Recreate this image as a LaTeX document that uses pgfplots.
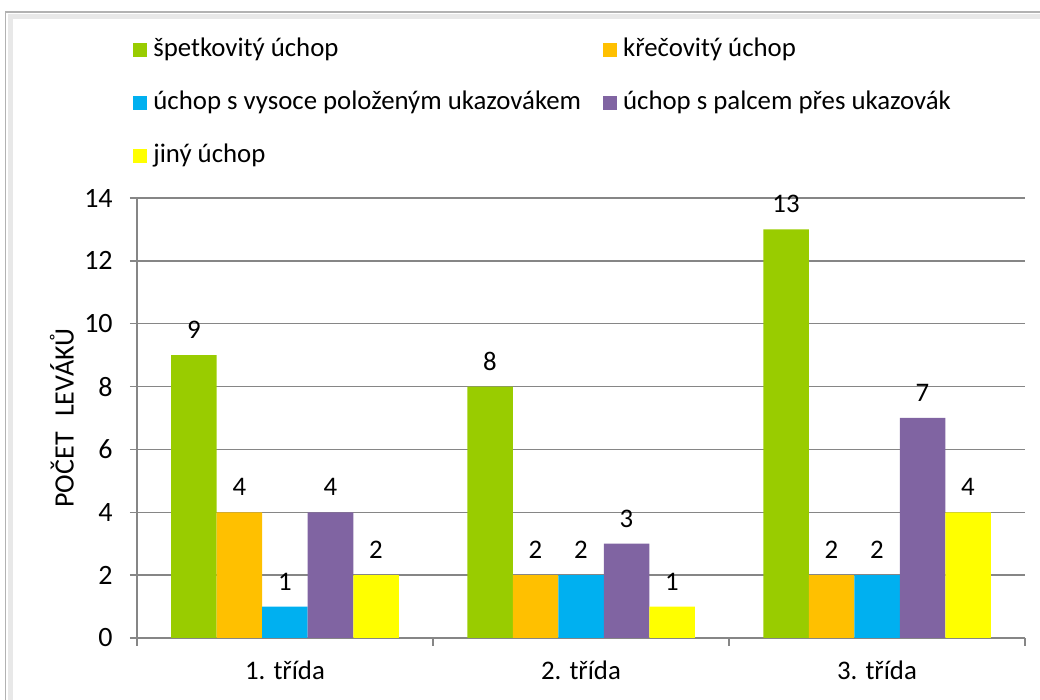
\documentclass[border=0pt]{standalone}
\usepackage{fontspec}
\setmainfont{Carlito}
\usepackage{pgfplots}
\pgfplotsset{compat=1.18}

\definecolor{cGreen}{HTML}{99CC00}
\definecolor{cOrange}{HTML}{FFC000}
\definecolor{cBlue}{HTML}{00B0F0}
\definecolor{cPurple}{HTML}{8064A2}
\definecolor{cYellow}{HTML}{FFFF00}
\definecolor{cAxis}{HTML}{868686}

\newcommand{\chartfont}{\fontsize{13.4}{16}\selectfont}

\begin{document}
\chartfont
\begin{tikzpicture}
\path[use as bounding box] (0,0) rectangle (520pt,350pt);
% frame with a soft shadow
\draw[gray!18, line width=2.5pt] (5pt,-5pt) -- (5pt,341.5pt) -- (530pt,341.5pt);
\draw[gray!60, line width=0.8pt] (2.8pt,-5pt) rectangle (530pt,344pt);

\begin{axis}[
  at={(68.5pt,31pt)}, anchor=south west,
  scale only axis,
  width=444pt, height=220pt,
  ymin=0, ymax=14, ytick={0,2,...,14},
  xmin=-0.5, xmax=2.5,
  xtick={0,1,2},
  xticklabels={1. třída, 2. třída, 3. třída},
  minor xtick={-0.5,0.5,1.5,2.5},
  ybar=0pt, bar width=22.75pt,
  axis x line*=bottom, axis y line*=left,
  axis line style={cAxis, line width=0.75pt},
  ymajorgrids, grid style={cAxis, line width=0.75pt},
  tick align=outside,
  major tick length=3.5pt, minor tick length=4pt,
  major x tick style={draw=none},
  minor x tick style={cAxis, line width=0.75pt},
  major y tick style={cAxis, line width=0.75pt},
  /pgf/number format/assume math mode=true,
  tick label style={font=\chartfont, black},
  yticklabel style={xshift=-4pt, font=\fontsize{14}{16}\selectfont},
  xticklabel style={yshift=-3.5pt},
  ylabel={POČET\hspace{0.55em}LEVÁKŮ},
  every axis y label/.style={at={(axis description cs:-0.0845,0.5)}, rotate=90, anchor=center, font=\fontsize{14}{16}\selectfont},
  nodes near coords,
  every node near coord/.append style={font=\chartfont, black, yshift=3.5pt},
  every axis plot post/.append style={draw=none, legend image code/.code={\fill[##1] (0pt,-3.5pt) rectangle (7pt,3.5pt);}},
  legend columns=2,
  legend cell align=left,
  legend style={at={(axis description cs:-0.0045,1.378)}, anchor=north west, draw=none, fill=none, inner sep=0pt,
    font=\chartfont, row sep=9pt,
    nodes={text height=10pt, text depth=3.5pt, inner sep=2pt},
    /tikz/every odd column/.style={column sep=1pt},
    /tikz/every even column/.style={column sep=9pt}},
]
\addplot[fill=cGreen] coordinates {(0,9) (1,8) (2,13)};
\addplot[fill=cOrange] coordinates {(0,4) (1,2) (2,2)};
\addplot[fill=cBlue] coordinates {(0,1) (1,2) (2,2)};
\addplot[fill=cPurple] coordinates {(0,4) (1,3) (2,7)};
\addplot[fill=cYellow] coordinates {(0,2) (1,1) (2,4)};
\legend{špetkovitý úchop, křečovitý úchop, úchop s vysoce položeným ukazovákem, úchop s palcem přes ukazovák, jiný úchop}
\end{axis}
\end{tikzpicture}
\end{document}
